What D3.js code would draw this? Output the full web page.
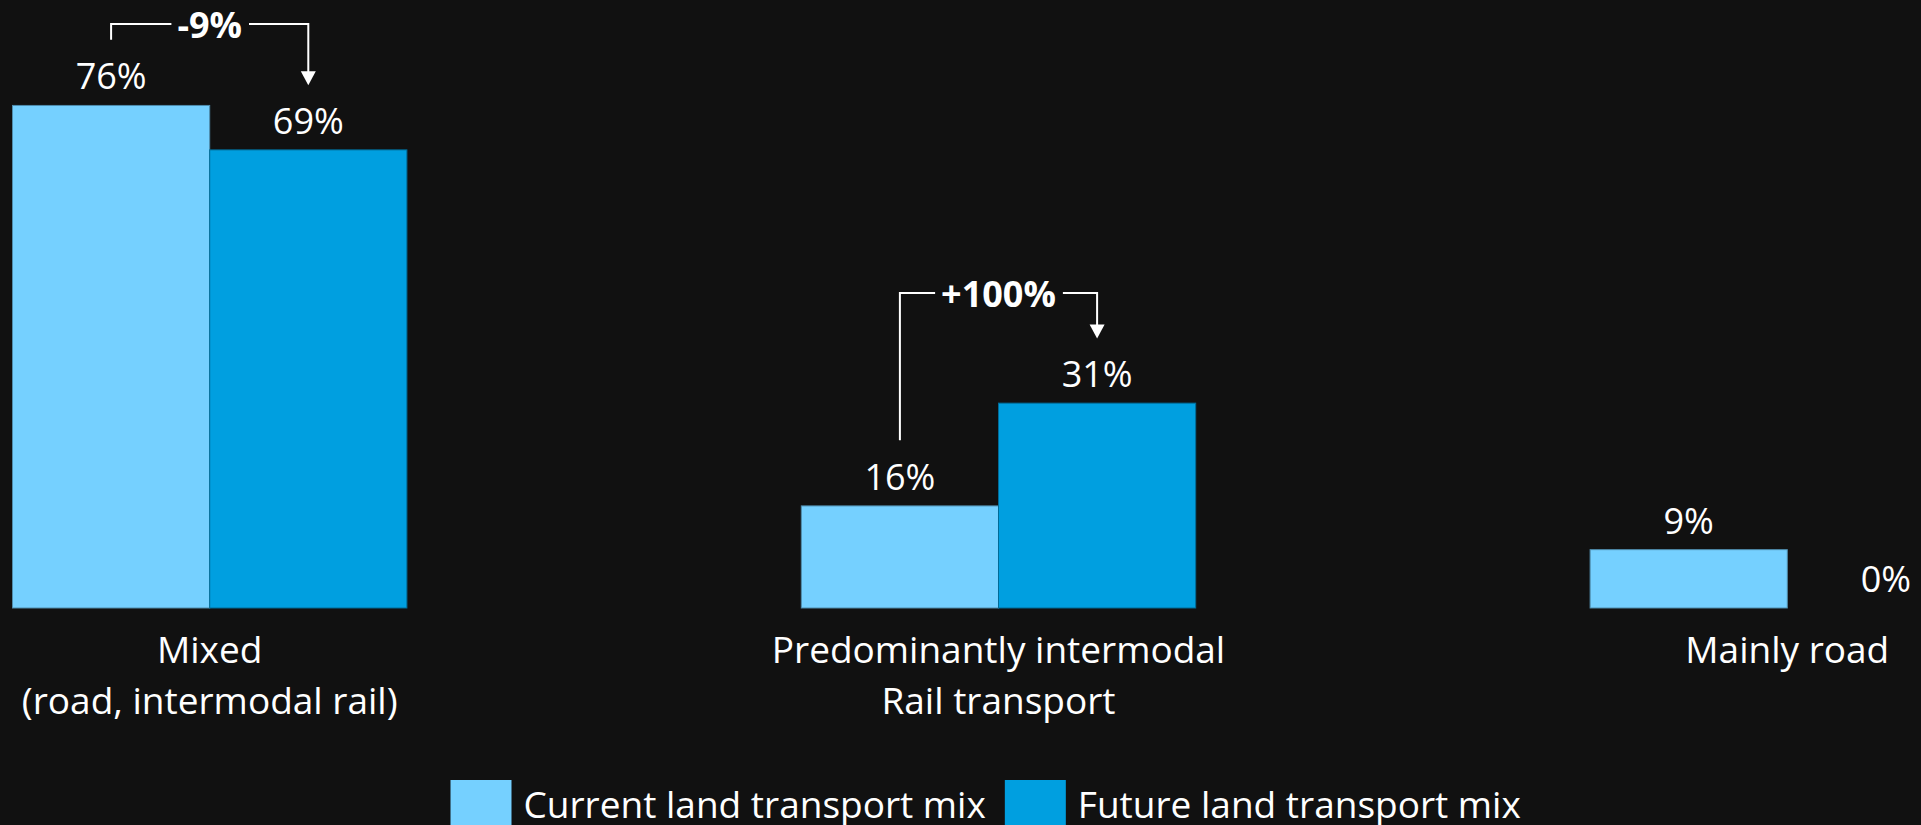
<!DOCTYPE html>
<html>
<head>
<meta charset="utf-8">
<script src="https://cdn.jsdelivr.net/npm/d3@7"></script>
<style>
    html, body { margin: 0; padding: 0; background: #111111; overflow: hidden; }
    svg { display: block; }
    text { font-family: "Open Sans", Lato, sans-serif; fill: #ffffff; }
</style>
</head>
<body>
<div id="chart"></div>
<script>
// Land transport mix - current vs future

// Data
const categories = [
    ['Mixed', '(road, intermodal rail)'],
    ['Predominantly intermodal', 'Rail transport'],
    ['Mainly road']
];
const seriesNames = ['Current land transport mix', 'Future land transport mix'];
const currentValues = [75.8, 15.4, 8.8];
const futureValues = [69.1, 30.9, 0];
const currentLabels = ['76%', '16%', '9%'];
const futureLabels = ['69%', '31%', '0%'];
const changeLabels = ['-9%', '+100%'];   // one per group that has a change arrow

// Configuration
const config = {
    width: 1921,
    height: 825,
    baseline: 608,
    pxPerPct: 6.63,
    left: 12.5,
    right: 1984.5,
    colors: ['#75d0ff', '#009fe0'],
    valueFont: 36,
    labelFont: 37,
    bracketTop: [24, 293]
};

const keys = seriesNames.map((d, i) => i);
const rows = categories.map((c, i) => ({
    key: i,
    lines: c,
    values: [currentValues[i], futureValues[i]],
    labels: [currentLabels[i], futureLabels[i]]
}));

const svg = d3.select('#chart')
    .append('svg')
    .attr('width', config.width)
    .attr('height', config.height);

svg.append('rect')
    .attr('width', config.width)
    .attr('height', config.height)
    .attr('fill', '#111111');

// Scales
const x0 = d3.scaleBand()
    .domain(rows.map(d => d.key))
    .range([config.left, config.right])
    .paddingInner(0.5)
    .paddingOuter(0);

const x1 = d3.scaleBand()
    .domain(keys)
    .range([0, x0.bandwidth()])
    .padding(0);

const y = d3.scaleLinear()
    .domain([0, 100])
    .range([config.baseline, config.baseline - 100 * config.pxPerPct]);

const color = d3.scaleOrdinal().domain(keys).range(config.colors);

// Bars
const groups = svg.selectAll('.group')
    .data(rows)
    .enter().append('g')
    .attr('class', 'group')
    .attr('transform', d => `translate(${x0(d.key)},0)`);

groups.selectAll('rect')
    .data(d => keys.map(k => ({ k, v: d.values[k], label: d.labels[k] })))
    .enter().append('rect')
    .filter(d => d.v > 0)
    .attr('x', d => x1(d.k))
    .attr('y', d => y(d.v))
    .attr('width', x1.bandwidth())
    .attr('height', d => y(0) - y(d.v))
    .attr('fill', d => color(d.k))
    .attr('stroke', d => d3.color(color(d.k)).darker(1.1))
    .attr('stroke-width', 1);

// Value labels
groups.selectAll('.value')
    .data(d => keys.map(k => ({ k, v: d.values[k], label: d.labels[k] })))
    .enter().append('text')
    .attr('class', 'value')
    .attr('x', d => x1(d.k) + x1.bandwidth() / 2)
    .attr('y', d => y(d.v) - 16)
    .attr('text-anchor', 'middle')
    .style('font-size', config.valueFont + 'px')
    .text(d => d.label);

// Category labels
groups.append('text')
    .attr('class', 'category')
    .attr('x', x0.bandwidth() / 2)
    .attr('y', 663)
    .attr('text-anchor', 'middle')
    .style('font-size', config.labelFont + 'px')
    .selectAll('tspan')
    .data(d => d.lines)
    .enter().append('tspan')
    .attr('x', x0.bandwidth() / 2)
    .attr('dy', (d, i) => i === 0 ? 0 : 51)
    .text(d => d);

// Change brackets with arrow
const capHeight = 27.7;
const bracket = svg.append('g').attr('class', 'brackets');

changeLabels.forEach((label, i) => {
    const row = rows[i];
    const xL = x0(row.key) + x1(0) + x1.bandwidth() / 2;
    const xR = x0(row.key) + x1(1) + x1.bandwidth() / 2;
    const yTop = config.bracketTop[i];
    const yStart = y(row.values[0]) - 16 - capHeight - 22;
    const yTip = y(row.values[1]) - 16 - capHeight - 21;
    const xMid = (xL + xR) / 2;

    const t = bracket.append('text')
        .attr('x', xMid)
        .attr('y', yTop + 13.5)
        .attr('text-anchor', 'middle')
        .style('font-size', config.valueFont + 'px')
        .style('font-weight', 700)
        .text(label);
    const w = t.node().getComputedTextLength();

    bracket.append('path')
        .attr('d', `M${xL},${yStart}V${yTop}H${xMid - w / 2 - 6}`)
        .attr('fill', 'none')
        .attr('stroke', '#ffffff')
        .attr('stroke-width', 2);

    bracket.append('path')
        .attr('d', `M${xMid + w / 2 + 7},${yTop}H${xR}V${yTip - 13}`)
        .attr('fill', 'none')
        .attr('stroke', '#ffffff')
        .attr('stroke-width', 2);

    bracket.append('path')
        .attr('d', `M${xR - 7.5},${yTip - 14}L${xR + 7.5},${yTip - 14}L${xR},${yTip}Z`)
        .attr('fill', '#ffffff');
});

// Legend
const legend = svg.append('g').attr('class', 'legend');
let lx = 450.5;
seriesNames.forEach((name, i) => {
    legend.append('rect')
        .attr('x', lx)
        .attr('y', 780)
        .attr('width', 61)
        .attr('height', 61)
        .attr('fill', color(i));
    const t = legend.append('text')
        .attr('x', lx + 73)
        .attr('y', 818)
        .style('font-size', config.labelFont + 'px')
        .text(name);
    lx += 73 + t.node().getComputedTextLength() + 19;
});
</script>
</body>
</html>
